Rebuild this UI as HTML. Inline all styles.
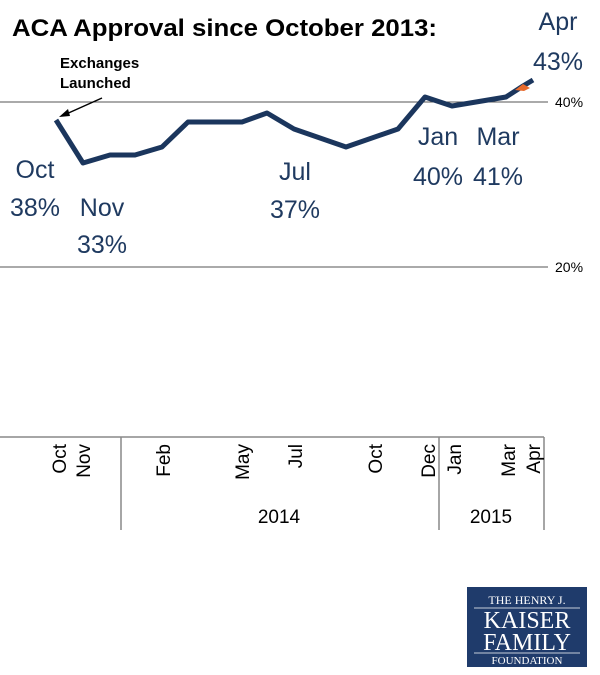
<!DOCTYPE html>
<html><head><meta charset="utf-8"><style>
body{margin:0;background:#fff;width:600px;height:675px;overflow:hidden}
svg{display:block}
</style></head><body>
<svg width="600" height="675" xmlns="http://www.w3.org/2000/svg" font-family="Liberation Sans, DejaVu Sans, sans-serif">
<text x="12" y="36" font-size="24" font-weight="bold" fill="#000" textLength="425" lengthAdjust="spacingAndGlyphs">ACA Approval since October 2013:</text>
<line x1="0" y1="102" x2="548" y2="102" stroke="#555" stroke-width="1"/>
<line x1="0" y1="267" x2="548" y2="267" stroke="#555" stroke-width="1"/>
<text x="555" y="107" font-size="14" fill="#000">40%</text>
<text x="555" y="272" font-size="14" fill="#000">20%</text>
<text x="60" y="68" font-size="15" font-weight="bold" fill="#000">Exchanges</text>
<text x="60" y="88" font-size="15" font-weight="bold" fill="#000">Launched</text>
<line x1="102" y1="98" x2="64" y2="115" stroke="#000" stroke-width="1.5"/>
<polygon points="59,117 68,109 70,116" fill="#000"/>
<polyline fill="none" stroke="#1b365d" stroke-width="5" stroke-linejoin="round" points="56,120 83,163 110,155 135,155 162,147 188,122 242,122 267,113 294,129 346,147 398,129 425,97 452,106 506,97 523,86 533,80"/>
<path d="M515,90 l8,-6 l7,4 l-6,3z" fill="#e86a2c"/>
<g font-size="25" fill="#1f3a60" text-anchor="middle">
<text x="35" y="178">Oct</text><text x="35" y="216">38%</text>
<text x="102" y="216">Nov</text><text x="102" y="253">33%</text>
<text x="295" y="180">Jul</text><text x="295" y="218">37%</text>
<text x="438" y="145">Jan</text><text x="438" y="185">40%</text>
<text x="498" y="145">Mar</text><text x="498" y="185">41%</text>
<text x="558" y="30">Apr</text><text x="558" y="70">43%</text>
</g>
<line x1="0" y1="437" x2="544" y2="437" stroke="#888" stroke-width="1.5"/>
<line x1="121" y1="437" x2="121" y2="530" stroke="#888" stroke-width="1.5"/>
<line x1="439" y1="437" x2="439" y2="530" stroke="#888" stroke-width="1.5"/>
<line x1="544" y1="437" x2="544" y2="530" stroke="#888" stroke-width="1.5"/>
<g font-size="19" fill="#000" text-anchor="end">
<text transform="translate(66,444) rotate(-90)">Oct</text>
<text transform="translate(90,444) rotate(-90)">Nov</text>
<text transform="translate(170,444) rotate(-90)">Feb</text>
<text transform="translate(249,444) rotate(-90)">May</text>
<text transform="translate(302,444) rotate(-90)">Jul</text>
<text transform="translate(382,444) rotate(-90)">Oct</text>
<text transform="translate(435,444) rotate(-90)">Dec</text>
<text transform="translate(461,444) rotate(-90)">Jan</text>
<text transform="translate(515,444) rotate(-90)">Mar</text>
<text transform="translate(540,444) rotate(-90)">Apr</text>
</g>
<text x="279" y="523" font-size="19" text-anchor="middle">2014</text>
<text x="491" y="523" font-size="19" text-anchor="middle">2015</text>
<rect x="467" y="587" width="120" height="80" fill="#1f3b6b"/>
<g fill="#fff" font-family="Liberation Serif, serif" text-anchor="middle">
<text x="527" y="604" font-size="12">THE HENRY J.</text>
<line x1="474" y1="608" x2="580" y2="608" stroke="#fff" stroke-width="0.8"/>
<text x="527" y="628" font-size="24">KAISER</text>
<text x="527" y="650" font-size="24">FAMILY</text>
<line x1="474" y1="653" x2="580" y2="653" stroke="#fff" stroke-width="0.8"/>
<text x="527" y="664" font-size="11">FOUNDATION</text>
</g>
</svg>
</body></html>
